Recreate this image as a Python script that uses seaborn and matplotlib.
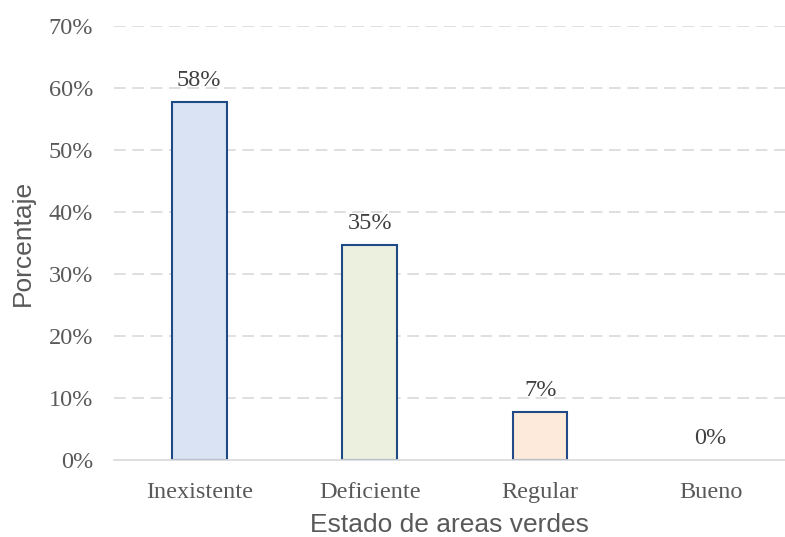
import matplotlib
matplotlib.use("Agg")
import matplotlib.pyplot as plt
import seaborn as sns
import pandas as pd

categories = ["Inexistente", "Deficiente", "Regular", "Bueno"]
values = [0.577, 0.347, 0.077, 0.0]
value_labels = ["58%", "35%", "7%", "0%"]
yticks = [0.0, 0.1, 0.2, 0.3, 0.4, 0.5, 0.6, 0.7]
ytick_labels = ["0%", "10%", "20%", "30%", "40%", "50%", "60%", "70%"]

fill_colors = ["#DAE3F3", "#EBF1DE", "#FDEADA", "#FFFFFF"]
edge_color = "#1F4A85"
text_color = "#595959"
serif = "Liberation Serif"
sans = "Liberation Sans"

sns.set_theme(style="white")
plt.rcParams["font.family"] = ["DejaVu Sans"]

df = pd.DataFrame({"cat": categories, "val": values})

fig = plt.figure(figsize=(7.85, 5.37), dpi=100)
ax = fig.add_axes([114 / 785, 77 / 537, (785 - 114) / 785, (460 - 26) / 537])

sns.barplot(data=df, x="cat", y="val", hue="cat", palette=fill_colors,
            order=categories, hue_order=categories, legend=False,
            width=0.32, saturation=1, edgecolor=edge_color, linewidth=1.5,
            ax=ax, zorder=3)

for p in ax.patches:
    if p.get_height() == 0:
        p.set_edgecolor("none")
        p.set_facecolor("none")

ax.set_ylim(0, 0.70)
ax.set_xlim(-0.5, 3.436)
ax.set_yticks(yticks)
ax.set_yticklabels(ytick_labels, fontfamily=serif, fontsize=17.5, color=text_color)
ax.set_xticks(range(len(categories)))
ax.set_xticklabels(categories, fontfamily=serif, fontsize=17.5, color=text_color)
ax.tick_params(axis="y", length=0, pad=15)
ax.tick_params(axis="x", length=0, pad=16)

for y in yticks[1:]:
    ax.axhline(y, color="#D9D9D9", linewidth=1.2, linestyle=(0, (7, 4)), zorder=1)

for s in ["top", "right", "left"]:
    ax.spines[s].set_visible(False)
ax.spines["bottom"].set_color("#D9D9D9")
ax.spines["bottom"].set_linewidth(1.2)
ax.spines["bottom"].set_zorder(4)

for i, (v, lab) in enumerate(zip(values, value_labels)):
    ax.annotate(lab, xy=(i, v), xytext=(0, 8), textcoords="offset points",
                ha="center", va="bottom", fontfamily=serif, fontsize=17.5,
                color="#404040")

ax.set_xlabel("Estado de areas verdes", fontfamily=sans, fontsize=19,
              color=text_color, labelpad=7)
ax.set_ylabel("Porcentaje", fontfamily=sans, fontsize=19, color=text_color,
              labelpad=10)

fig.savefig("out.png", dpi=100)
